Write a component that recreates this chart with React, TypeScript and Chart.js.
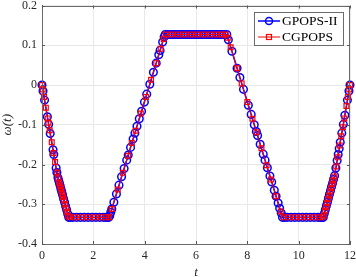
import React, { useEffect, useRef } from "react";
import { Chart, registerables } from "chart.js";
Chart.register(...registerables);

const seriesNames = ["GPOPS-II", "CGPOPS"];

const gpopsT = [0, 0.04, 0.1, 0.21, 0.26, 0.32, 0.43, 0.46, 0.55, 0.58, 0.62, 0.65, 0.68, 0.71, 0.74, 0.77, 0.8, 0.84, 0.88, 0.92, 0.96, 1.0, 1.04,
  1.1, 1.2, 1.35, 1.5, 1.65, 1.8, 1.95, 2.1, 2.25, 2.4, 2.5, 2.56, 2.6,
  2.64, 2.68, 2.72, 2.8, 2.9, 3.0, 3.1, 3.2, 3.3, 3.36, 3.45, 3.55, 3.62, 3.7, 3.79, 3.88, 3.99, 4.08, 4.2, 4.34, 4.45, 4.55, 4.6, 4.7, 4.76, 4.8,
  4.9, 5.0, 5.1, 5.2, 5.3, 5.4, 5.5, 5.6, 5.7, 5.8, 5.9, 6.0, 6.1, 6.2, 6.3, 6.4, 6.5, 6.6, 6.7, 6.8, 6.9, 7.0, 7.1, 7.2,
  7.26, 7.4, 7.6, 7.71, 7.85, 8.04, 8.15, 8.27, 8.35, 8.4, 8.5, 8.62, 8.69, 8.78, 8.88, 8.95, 9.05, 9.12, 9.2, 9.26, 9.32, 9.37,
  9.45, 9.55, 9.7, 9.85, 10.0, 10.15, 10.3, 10.45, 10.6, 10.75, 10.85, 10.92, 10.96,
  11.0, 11.04, 11.08, 11.12, 11.16, 11.2, 11.24, 11.28, 11.32, 11.36, 11.4, 11.45, 11.5, 11.54, 11.58, 11.62, 11.68, 11.74, 11.8, 11.9, 11.96, 12];
const gpopsW = [0, -0.015, -0.038, -0.08, -0.099, -0.122, -0.163, -0.175, -0.209, -0.22, -0.233, -0.24, -0.247, -0.254, -0.262, -0.269, -0.276, -0.286, -0.295, -0.305, -0.314, -0.324, -0.333,
  -0.333, -0.333, -0.333, -0.333, -0.333, -0.333, -0.333, -0.333, -0.333, -0.333, -0.333, -0.333, -0.333,
  -0.329, -0.32, -0.312, -0.295, -0.274, -0.252, -0.231, -0.21, -0.189, -0.176, -0.157, -0.136, -0.121, -0.104, -0.085, -0.066, -0.043, -0.023, 0.002, 0.032, 0.055, 0.076, 0.087, 0.108, 0.121, 0.127,
  0.127, 0.127, 0.127, 0.127, 0.127, 0.127, 0.127, 0.127, 0.127, 0.127, 0.127, 0.127, 0.127, 0.127, 0.127, 0.127, 0.127, 0.127, 0.127, 0.127, 0.127, 0.127, 0.127, 0.127,
  0.114, 0.085, 0.042, 0.019, -0.011, -0.051, -0.074, -0.1, -0.117, -0.127, -0.149, -0.174, -0.189, -0.208, -0.229, -0.244, -0.265, -0.28, -0.297, -0.31, -0.322, -0.333,
  -0.333, -0.333, -0.333, -0.333, -0.333, -0.333, -0.333, -0.333, -0.333, -0.333, -0.333, -0.333, -0.333,
  -0.323, -0.314, -0.304, -0.295, -0.285, -0.275, -0.266, -0.256, -0.247, -0.237, -0.228, -0.209, -0.19, -0.175, -0.16, -0.144, -0.121, -0.099, -0.076, -0.038, -0.015, 0];

const cgpopsT = [0, 0.03, 0.08, 0.15, 0.22, 0.25, 0.3, 0.38, 0.45, 0.51, 0.58, 0.63, 0.67, 0.7, 0.73, 0.76, 0.79, 0.82, 0.86, 0.9, 0.94, 0.98, 1.02,
  1.08, 1.3, 1.55, 1.8, 2.05, 2.3, 2.5, 2.62,
  2.72, 2.95, 3.15, 3.35, 3.5, 3.65, 3.85, 4.05, 4.25, 4.45, 4.62, 4.74, 4.82,
  5.05, 5.3, 5.55, 5.8, 6.05, 6.3, 6.55, 6.8, 7.0, 7.15,
  7.24, 7.35, 7.6, 7.78, 8.0, 8.2, 8.36, 8.55, 8.75, 8.92, 9.12, 9.3,
  9.42, 9.6, 9.85, 10.1, 10.35, 10.6, 10.8, 10.93,
  10.98, 11.03, 11.07, 11.11, 11.15, 11.19, 11.23, 11.27, 11.31, 11.35, 11.39, 11.46, 11.52, 11.6, 11.66, 11.72, 11.78, 11.86, 11.92, 11.97, 12];
const cgpopsW = [0, -0.011, -0.03, -0.057, -0.084, -0.095, -0.114, -0.144, -0.171, -0.194, -0.22, -0.235, -0.245, -0.252, -0.259, -0.266, -0.274, -0.281, -0.29, -0.3, -0.31, -0.319, -0.329,
  -0.333, -0.333, -0.333, -0.333, -0.333, -0.333, -0.333, -0.333,
  -0.312, -0.263, -0.221, -0.178, -0.146, -0.115, -0.072, -0.03, 0.013, 0.055, 0.091, 0.116, 0.127,
  0.127, 0.127, 0.127, 0.127, 0.127, 0.127, 0.127, 0.127, 0.127, 0.127,
  0.119, 0.095, 0.042, 0.004, -0.043, -0.085, -0.119, -0.159, -0.202, -0.238, -0.28, -0.318,
  -0.333, -0.333, -0.333, -0.333, -0.333, -0.333, -0.333, -0.333,
  -0.328, -0.316, -0.307, -0.297, -0.287, -0.278, -0.268, -0.259, -0.249, -0.24, -0.23, -0.205, -0.182, -0.152, -0.129, -0.106, -0.084, -0.053, -0.03, -0.011, 0];

const xTicks = [0, 2, 4, 6, 8, 10, 12];
const yTicks = [-0.4, -0.3, -0.2, -0.1, 0, 0.1, 0.2];

const FONT = "'Liberation Serif', 'DejaVu Serif', serif";
const BLUE = "#0000ff";
const RED = "#ff0000";
const AXIS = "#6b6b6b";

const boxPlugin = {
  id: "boxAndLegend",
  afterDraw(chart: any) {
    const { ctx, chartArea } = chart;
    const { left, right, top, bottom } = chartArea;
    const xs = chart.scales.x;
    const ys = chart.scales.y;
    ctx.save();
    ctx.strokeStyle = AXIS;
    ctx.lineWidth = 1;
    ctx.strokeRect(Math.round(left) + 0.5, Math.round(top) + 0.5, Math.round(right - left) - 1, Math.round(bottom - top) - 1);
    ctx.strokeStyle = "#555";
    const tl = 3;
    ctx.beginPath();
    xTicks.forEach((v) => {
      const px = Math.round(xs.getPixelForValue(v)) + 0.5;
      ctx.moveTo(px, bottom);
      ctx.lineTo(px, bottom - tl);
      ctx.moveTo(px, top);
      ctx.lineTo(px, top + tl);
    });
    yTicks.forEach((v) => {
      const py = Math.round(ys.getPixelForValue(v)) + 0.5;
      ctx.moveTo(left, py);
      ctx.lineTo(left + tl, py);
      ctx.moveTo(right, py);
      ctx.lineTo(right - tl, py);
    });
    ctx.stroke();
    const lx = 254.5, ly = 12.5, lw = 89, lh = 33;
    ctx.fillStyle = "#ffffff";
    ctx.fillRect(lx, ly, lw, lh);
    ctx.strokeStyle = AXIS;
    ctx.strokeRect(lx, ly, lw, lh);
    const rows = [
      { name: seriesNames[0], color: BLUE, y: 21, shape: "circle" },
      { name: seriesNames[1], color: RED, y: 37, shape: "rect" },
    ];
    rows.forEach((r) => {
      ctx.strokeStyle = r.color;
      ctx.lineWidth = r.shape === "circle" ? 1.5 : 1;
      ctx.beginPath();
      ctx.moveTo(258, r.y);
      ctx.lineTo(280, r.y);
      ctx.stroke();
      ctx.lineWidth = 1.5;
      if (r.shape === "circle") {
        ctx.beginPath();
        ctx.arc(269, r.y, 3.5, 0, Math.PI * 2);
        ctx.stroke();
      } else {
        ctx.lineWidth = 1.2;
        ctx.strokeRect(266.5, r.y - 2.5, 5, 5);
      }
      ctx.fillStyle = "#000";
      ctx.font = `13.5px ${FONT}`;
      ctx.textBaseline = "middle";
      ctx.textAlign = "left";
      ctx.fillText(r.name, 282, r.y + 0.5);
    });
    ctx.restore();
  },
};

export default function App() {
  const ref = useRef<HTMLCanvasElement>(null);
  useEffect(() => {
    document.body.style.margin = "0";
    const canvas = ref.current!;
    const chart = new Chart(canvas, {
      type: "line",
      data: {
        datasets: [
          {
            label: seriesNames[0],
            data: gpopsT.map((t, i) => ({ x: t, y: gpopsW[i] })),
            borderColor: BLUE,
            borderWidth: 1.6,
            pointStyle: "circle",
            pointRadius: 3.8,
            pointBorderWidth: 1.5,
            pointBorderColor: BLUE,
            pointBackgroundColor: "rgba(0,0,0,0)",
            tension: 0,
            clip: false as any,
            order: 1,
          },
          {
            label: seriesNames[1],
            data: cgpopsT.map((t, i) => ({ x: t, y: cgpopsW[i] })),
            borderColor: RED,
            borderWidth: 1,
            pointStyle: "rect",
            pointRadius: 3.4,
            pointBorderWidth: 1.2,
            pointBorderColor: RED,
            pointBackgroundColor: "rgba(0,0,0,0)",
            tension: 0,
            clip: false as any,
            order: 0,
          },
        ],
      },
      options: {
        animation: false,
        responsive: false,
        devicePixelRatio: 1,
        layout: { padding: { top: 5, right: 6, left: 0, bottom: 0 } },
        plugins: { legend: { display: false }, tooltip: { enabled: false } },
        scales: {
          x: {
            type: "linear",
            min: 0,
            max: 12,
            afterBuildTicks: (s: any) => { s.ticks = xTicks.map((v) => ({ value: v })); },
            afterFit: (s: any) => { s.height = 33; s.paddingLeft = 0; s.paddingRight = 0; },
            grid: { color: "#e8e8e8", drawTicks: false },
            border: { display: true, color: AXIS },
            ticks: { color: "#262626", font: { family: FONT, size: 12 }, padding: 5, maxRotation: 0 },
            title: { display: true, text: "t", color: "#262626", font: { family: FONT, size: 13, style: "italic" }, padding: { top: 0, bottom: -3 } },
          },
          y: {
            type: "linear",
            min: -0.4,
            max: 0.2,
            afterBuildTicks: (s: any) => { s.ticks = yTicks.map((v) => ({ value: v })); },
            afterFit: (s: any) => { s.width = 42; s.paddingTop = 0; s.paddingBottom = 0; },
            grid: { color: "#e8e8e8", drawTicks: false },
            border: { display: true, color: AXIS },
            ticks: {
              color: "#262626",
              font: { family: FONT, size: 12 },
              padding: 5,
              callback: (v: any) => String(Math.round(Number(v) * 10) / 10),
            },
            title: { display: true, text: "ω(t)", color: "#262626", font: { family: FONT, size: 13, style: "italic" }, padding: { top: 0, bottom: 0 } },
          },
        },
      },
      plugins: [boxPlugin],
    });
    return () => chart.destroy();
  }, []);
  return (
    <div style={{ position: "absolute", left: 0, top: 0, width: 356, height: 277, background: "#fff" }}>
      <canvas ref={ref} width={356} height={277} style={{ width: 356, height: 277 }} />
    </div>
  );
}
